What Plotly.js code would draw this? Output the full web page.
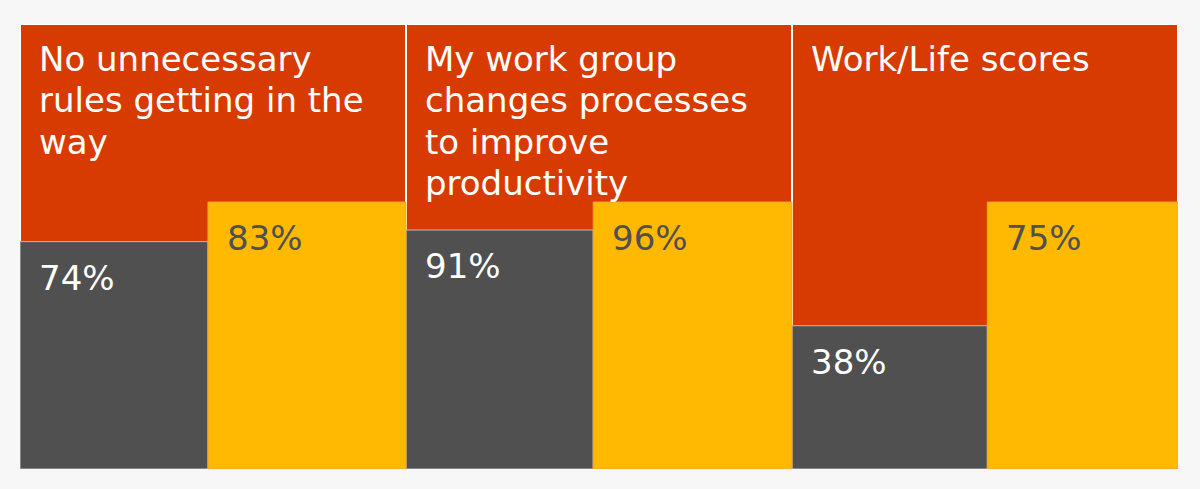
<!DOCTYPE html>
<html>
<head>
<meta charset="utf-8">
<script src="https://cdn.plot.ly/plotly-3.0.1.min.js"></script>
<style>html,body{margin:0;padding:0;background:#f7f7f7;}#chart{width:1200px;height:489px;}</style>
</head>
<body>
<div id="chart"></div>
<script>
// ---- data ----
var panelTitles = [
  ["No unnecessary", "rules getting in the", "way"],
  ["My work group", "changes processes", "to improve", "productivity"],
  ["Work/Life scores"]
];
var grayValues = [74, 91, 38];      // printed percentages, dark bars
var yellowValues = [83, 96, 75];    // printed percentages, yellow bars
var grayHeights = [51.1, 53.7, 32.2];   // bar heights (% of panel)
var yellowHeights = [60, 60, 60];
var backHeights = [100, 100, 100];

// ---- styling constants ----
var ORANGE = '#D83B01', GRAY = '#505050', YELLOW = '#FFB900';
var FONT = 'Verdana, "DejaVu Sans", sans-serif';
var FS = 34;
var split = [0.487, 0.485, 0.506];

var idx = [0, 1, 2];
var grayX = idx.map(function(i){ return i + split[i] / 2; });
var grayW = idx.map(function(i){ return split[i]; });
var yelX = idx.map(function(i){ return i + split[i] + (1 - split[i]) / 2; });
var yelW = idx.map(function(i){ return 1 - split[i]; });

var traces = [
  {type: 'bar', x: idx.map(function(i){return i + 0.5;}), y: backHeights, width: [1,1,1],
   marker: {color: ORANGE, line: {color: '#ffffff', width: 2}}, hoverinfo: 'skip'},
  {type: 'bar', x: grayX, y: grayHeights, width: grayW,
   marker: {color: GRAY, line: {color: '#bdbdbd', width: 1}}, hoverinfo: 'skip'},
  {type: 'bar', x: yelX, y: yellowHeights, width: yelW,
   marker: {color: YELLOW, line: {color: '#f3a33a', width: 1}}, hoverinfo: 'skip'}
];

var annotations = [];
panelTitles.forEach(function(lines, p) {
  lines.forEach(function(line, k) {
    annotations.push({
      xref: 'x', yref: 'paper', x: p, y: 1, xanchor: 'left', yanchor: 'middle',
      xshift: 17, yshift: -35 - k * 41.3, showarrow: false, text: line,
      font: {family: FONT, size: FS, color: '#ffffff'}
    });
  });
});
idx.forEach(function(i) {
  annotations.push({
    xref: 'x', yref: 'y', x: i, y: grayHeights[i], xanchor: 'left', yanchor: 'middle',
    xshift: 17, yshift: -36, showarrow: false, text: grayValues[i] + '%',
    font: {family: FONT, size: FS, color: '#ffffff'}
  });
  annotations.push({
    xref: 'x', yref: 'y', x: i + split[i], y: yellowHeights[i], xanchor: 'left', yanchor: 'middle',
    xshift: 17, yshift: -36, showarrow: false, text: yellowValues[i] + '%',
    font: {family: FONT, size: FS, color: GRAY}
  });
});

var layout = {
  width: 1200, height: 489,
  margin: {l: 20, r: 22, t: 24, b: 20},
  paper_bgcolor: '#f7f7f7', plot_bgcolor: '#f7f7f7',
  barmode: 'overlay', showlegend: false,
  xaxis: {range: [0, 3], visible: false, fixedrange: true},
  yaxis: {range: [0, 100], visible: false, fixedrange: true},
  annotations: annotations
};

Plotly.newPlot('chart', traces, layout, {displayModeBar: false, staticPlot: true});
</script>
</body>
</html>
